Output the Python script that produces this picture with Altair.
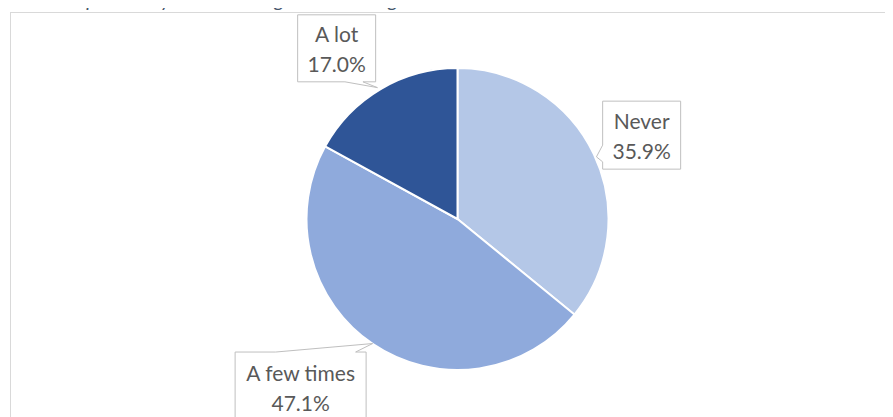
import math
import altair as alt
import pandas as pd

# ---- data ----
categories = ["Never", "A few times", "A lot"]
shares = [35.9, 47.1, 17.0]
pct_labels = ["35.9%", "47.1%", "17.0%"]
colors = ["#B4C7E7", "#8FAADC", "#2F5597"]
title_text = "re to protect by the state or government agencies"

# ---- layout / style ----
PAD_L, PAD_T = 2, 4
W, H = 875, 420          # view (chart frame) size, runs past the window like the reference frame
CX, CY, R = 447.5, 207.0, 151.0
label_nudge_deg = [0.9, 9.1, -4.7]
label_dist = [1.34, 1.52, 1.385]
TEXT_FONT = "Lato"
TEXT_SIZE = 21
TEXT_COLOR = "#595959"
BOX_STROKE = "#BFBFBF"

# callout outlines (px, relative to the box centre), scaled to symbol units
callout_px = {
    "Never": [(-39, -34), (39, -34), (39, 34), (-39, 34), (-39, 26.7), (-45.2, 21.7), (-39, 10)],
    "A few times": [(-65.5, -34.5), (-25, -34.5), (72, -43), (55, -34.5), (65.5, -34.5), (65.5, 34.5), (-65.5, 34.5)],
    "A lot": [(-39, -33.5), (39, -33.5), (39, 33.5), (26.3, 33.5), (40.8, 39.3), (8.3, 33.5), (-39, 33.5)],
}
UNIT = 100.0  # px per symbol-path unit -> size = (2*UNIT)^2


def to_path(pts):
    return "M" + " L".join(f"{x / UNIT:.4f},{y / UNIT:.4f}" for x, y in pts) + " Z"


paths = [to_path(callout_px[c]) for c in categories]

# label positions from the slice mid-angles
total = sum(shares)
cum = 0.0
lx, ly = [], []
for i, s in enumerate(shares):
    mid = (cum + s / 2) / total * 360.0 + label_nudge_deg[i]
    cum += s
    a = math.radians(mid)
    lx.append(math.sin(a) * label_dist[i])
    ly.append(math.cos(a) * label_dist[i])

df = pd.DataFrame({
    "category": categories,
    "share": shares,
    "pct": pct_labels,
    "idx": list(range(len(categories))),
    "lx": lx,
    "ly": ly,
})

xscale = alt.Scale(domain=[-CX / R, (W - CX) / R], range=[0, W], nice=False, zero=False)
yscale = alt.Scale(domain=[-(H - CY) / R, CY / R], range=[H, 0], nice=False, zero=False)

pie = alt.Chart(df).mark_arc(radius=R, stroke="white", strokeWidth=2).encode(
    theta=alt.Theta("share:Q", stack=True),
    color=alt.Color("category:N", scale=alt.Scale(domain=categories, range=colors), legend=None),
    order=alt.Order("idx:Q"),
    x=alt.value(CX),
    y=alt.value(CY),
)

boxes = alt.Chart(df).mark_point(
    filled=True, fill="white", stroke=BOX_STROKE, strokeWidth=1, opacity=1,
    size=(2 * UNIT) ** 2,
).encode(
    x=alt.X("lx:Q", scale=xscale, axis=None),
    y=alt.Y("ly:Q", scale=yscale, axis=None),
    shape=alt.Shape("category:N", scale=alt.Scale(domain=categories, range=paths), legend=None),
)

name_text = alt.Chart(df).mark_text(
    font=TEXT_FONT, fontSize=TEXT_SIZE, color=TEXT_COLOR, baseline="alphabetic", dy=-6
).encode(
    x=alt.X("lx:Q", scale=xscale, axis=None),
    y=alt.Y("ly:Q", scale=yscale, axis=None),
    text="category:N",
)

pct_text = alt.Chart(df).mark_text(
    font=TEXT_FONT, fontSize=TEXT_SIZE, color=TEXT_COLOR, baseline="alphabetic", dy=24
).encode(
    x=alt.X("lx:Q", scale=xscale, axis=None),
    y=alt.Y("ly:Q", scale=yscale, axis=None),
    text="pct:N",
)

one = pd.DataFrame({"k": [0]})
frame_top = alt.Chart(one).mark_rule(color="#D9D9D9", strokeWidth=1).encode(
    x=alt.value(0), x2=alt.value(W + 20), y=alt.value(0.5)
)
frame_left = alt.Chart(one).mark_rule(color="#D9D9D9", strokeWidth=1).encode(
    x=alt.value(0.5), y=alt.value(0), y2=alt.value(H + 20)
)
title = alt.Chart(one).mark_text(
    font=TEXT_FONT, fontSize=20, fontStyle="italic", color="#44546A",
    align="right", baseline="alphabetic",
).encode(x=alt.value(439), y=alt.value(-5.3), text=alt.value(title_text))

chart = alt.layer(frame_top, frame_left, title, pie, boxes, name_text, pct_text).properties(
    width=W, height=H,
    autosize=alt.AutoSizeParams(type="none"),
    padding={"left": PAD_L, "top": PAD_T, "right": 0, "bottom": 0},
    background="white",
).configure_view(stroke=None)

chart.save("out.html", embed_options={"renderer": "svg", "actions": False})
